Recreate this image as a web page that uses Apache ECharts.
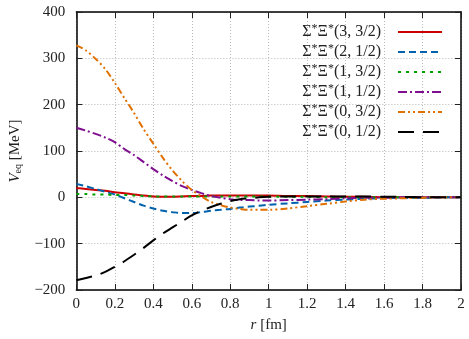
<!DOCTYPE html>
<html>
<head>
<meta charset="utf-8">
<script src="https://cdn.jsdelivr.net/npm/echarts@6/dist/echarts.min.js"></script>
<style>
  html, body { margin: 0; padding: 0; background: #fff; }
  #chart { width: 469px; height: 339px; }
</style>
</head>
<body>
<div id="chart"></div>
<script>
  // r in fm
  var rValues = [0, 0.05, 0.1, 0.15, 0.2, 0.25, 0.3, 0.35, 0.4, 0.45, 0.5, 0.55, 0.6, 0.65, 0.7, 0.75, 0.8, 0.85, 0.9, 0.95, 1.0,
                 1.1, 1.2, 1.3, 1.4, 1.5, 1.6, 1.7, 1.8, 1.9, 2.0];

  // V_eq [MeV] per channel (S, I)
  var v33 = [20, 18, 16, 14, 11, 9, 6, 4, 2, 1, 1, 2, 3, 3, 4, 4, 4, 4, 4, 4, 4,
             3, 3, 2, 1, 1, 0, 0, 0, 0, 0];
  var v21 = [29, 24, 18, 12, 6, -2, -10, -18, -24, -29, -32, -34, -34, -32, -29, -27, -25, -22, -20, -18, -16,
             -13, -10, -7, -5, -3, -2, -1, -1, 0, 0];
  var v13 = [7, 7, 6, 6, 5, 5, 4, 3, 2, 2, 2, 2, 2, 2, 2, 2, 2, 2, 2, 2, 2,
             1, 1, 0, 0, 0, 0, 0, 0, 0, 0];
  var v11 = [150, 144, 137, 129, 119, 104, 91, 76, 61, 47, 35, 24, 16, 9, 3, -1, -4, -6, -6, -7, -7,
             -6, -5, -4, -2, -1, -1, 0, 0, 0, 0];
  var v03 = [328, 317, 299, 277, 247, 214, 182, 147, 116, 85, 58, 35, 16, 2, -10, -17, -22, -25, -27, -27, -27,
             -24, -19, -14, -9, -5, -3, -2, -1, 0, 0];
  var v01 = [-179, -174, -169, -161, -150, -138, -124, -109, -93, -78, -65, -52, -39, -29, -21, -14, -8, -4, -2, 0, 1,
             2, 2, 2, 2, 2, 1, 1, 0, 0, 0];

  var channelNames = ['(3, 3/2)', '(2, 1/2)', '(1, 3/2)', '(1, 1/2)', '(0, 3/2)', '(0, 1/2)'];
  var yTicks = [-200, -100, 0, 100, 200, 300, 400];

  var font = 'Liberation Serif';

  function pairs(vals) {
    var out = [];
    for (var i = 0; i < rValues.length; i++) {
      out.push([rValues[i], vals[i]]);
    }
    return out;
  }

  function makeSeries(idx, vals, color, dash) {
    return {
      type: 'line',
      name: channelNames[idx],
      data: pairs(vals),
      smooth: 0.3,
      symbol: 'none',
      showSymbol: false,
      lineStyle: { color: color, width: 2, type: dash },
      itemStyle: { color: color }
    };
  }

  var seriesList = [
    makeSeries(0, v33, '#cc0000', 'solid'),
    makeSeries(1, v21, '#0062ad', [7, 4]),
    makeSeries(2, v13, '#00a000', [3, 5]),
    makeSeries(3, v11, '#7f0f8f', [9, 3, 2, 3]),
    makeSeries(4, v03, '#e07000', [7, 3, 2, 3, 2, 3]),
    makeSeries(5, v01, '#000000', [16, 9])
  ];

  var gridLine = { show: true, lineStyle: { color: '#b8b8b8', type: [1, 2], width: 1 } };
  var tick = { show: true, inside: true, length: 6, lineStyle: { color: '#222', width: 1 } };

  var option = {
    animation: false,
    backgroundColor: '#fff',
    grid: { left: 73, right: 8, top: 12, bottom: 49 },
    legend: {
      orient: 'vertical',
      align: 'right',
      right: 21,
      top: 18,
      itemWidth: 44,
      itemHeight: 14,
      itemGap: 3,
      data: channelNames,
      itemStyle: { opacity: 0 },
      formatter: function (name) {
        return '{a|Σ}{s|*}{a|Ξ}{s|*}{a|' + name + '}';
      },
      textStyle: {
        fontFamily: font,
        fontSize: 16,
        color: '#222',
        padding: [0, 12, 0, 0],
        rich: {
          a: { fontFamily: font, fontSize: 16, color: '#222', lineHeight: 18 },
          s: { fontFamily: font, fontSize: 12, color: '#222', lineHeight: 12, verticalAlign: 'top' }
        }
      }
    },
    xAxis: [{
      type: 'value',
      min: 0,
      max: 2,
      interval: 0.2,
      name: '{i|r} [fm]',
      nameLocation: 'middle',
      nameGap: 28,
      nameTextStyle: {
        fontFamily: font, fontSize: 15, color: '#222',
        rich: { i: { fontFamily: font, fontSize: 15, fontStyle: 'italic', color: '#222' } }
      },
      axisLine: { show: true, onZero: false, lineStyle: { color: '#000', width: 1.5 } },
      axisTick: tick,
      axisLabel: { fontFamily: font, fontSize: 15, color: '#222', margin: 7 },
      splitLine: gridLine
    }, {
      type: 'value',
      position: 'top',
      min: 0,
      max: 2,
      interval: 0.2,
      axisLine: { show: true, onZero: false, lineStyle: { color: '#000', width: 1.5 } },
      axisTick: tick,
      axisLabel: { show: false },
      splitLine: { show: false }
    }],
    yAxis: [{
      type: 'value',
      min: yTicks[0],
      max: yTicks[yTicks.length - 1],
      interval: 100,
      name: '{i|V}{sub|eq} [MeV]',
      nameLocation: 'middle',
      nameRotate: 90,
      nameGap: 50,
      nameTextStyle: {
        fontFamily: font, fontSize: 15, color: '#222',
        rich: {
          i: { fontFamily: font, fontSize: 15, fontStyle: 'italic', color: '#222' },
          sub: { fontFamily: font, fontSize: 10, color: '#222', verticalAlign: 'bottom', padding: [6, 0, 0, 0] }
        }
      },
      axisLine: { show: true, onZero: false, lineStyle: { color: '#000', width: 1.5 } },
      axisTick: tick,
      axisLabel: {
        fontFamily: font, fontSize: 15, color: '#222', margin: 11,
        formatter: function (v) { return v < 0 ? '\u2212' + (-v) : String(v); }
      },
      splitLine: gridLine
    }, {
      type: 'value',
      position: 'right',
      min: yTicks[0],
      max: yTicks[yTicks.length - 1],
      interval: 100,
      axisLine: { show: true, onZero: false, lineStyle: { color: '#000', width: 1.5 } },
      axisTick: tick,
      axisLabel: { show: false },
      splitLine: { show: false }
    }],
    series: seriesList
  };

  var chart = echarts.init(document.getElementById('chart'));
  chart.setOption(option);
</script>
</body>
</html>
